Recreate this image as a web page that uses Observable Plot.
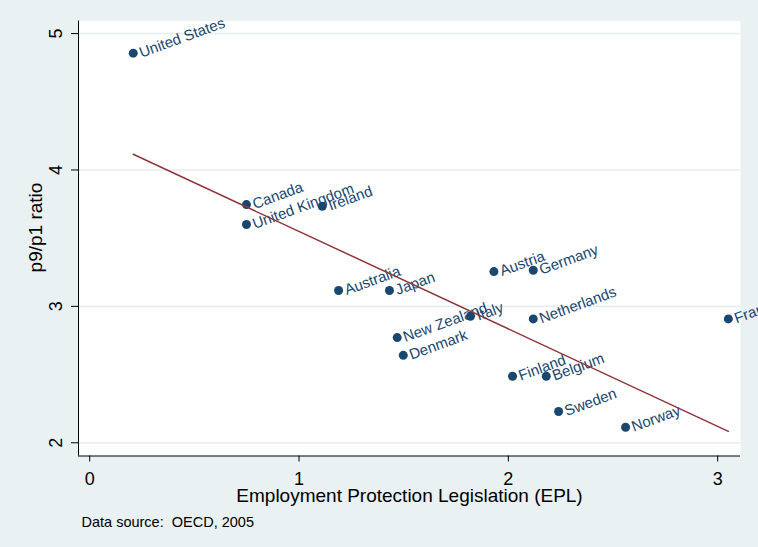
<!DOCTYPE html>
<html>
<head>
<meta charset="utf-8">
<script src="https://cdn.jsdelivr.net/npm/d3@7"></script>
<script src="https://cdn.jsdelivr.net/npm/@observablehq/plot@0.6"></script>
<style>
  html, body { margin: 0; padding: 0; background: #e9f1f3; }
  svg text { white-space: pre; }
</style>
</head>
<body>
<div id="chart"></div>
<script>
const countries = ["United States","Canada","United Kingdom","Ireland","Australia","Japan","New Zealand","Denmark","Italy","Austria","Germany","Netherlands","France","Finland","Belgium","Sweden","Norway"];
const epl  = [0.208, 0.749, 0.749, 1.111, 1.189, 1.432, 1.469, 1.498, 1.819, 1.931, 2.119, 2.119, 3.051, 2.020, 2.181, 2.240, 2.560];
const p9p1 = [4.856, 3.746, 3.600, 3.734, 3.116, 3.116, 2.771, 2.641, 2.927, 3.255, 3.265, 2.908, 2.908, 2.488, 2.488, 2.229, 2.114];
const xTicks = [0, 1, 2, 3];
const yTicks = [2, 3, 4, 5];
const xDomain = [-0.0535, 3.109];
const yDomain = [1.903, 5.092];
const xTitle = "Employment Protection Legislation (EPL)";
const yTitle = "p9/p1 ratio";
const caption = "Data source:  OECD, 2005";

const data = countries.map((c, i) => ({country: c, epl: epl[i], p9p1: p9p1[i]}));

const navy = "#1a476f";
const maroon = "#90353b";
const bg = "#e9f1f3";

const chart = Plot.plot({
  width: 758,
  height: 547,
  marginLeft: 78,
  marginRight: 18,
  marginTop: 20.5,
  marginBottom: 91.5,
  style: {background: bg, fontFamily: "'Liberation Sans', Arial, sans-serif", overflow: "visible"},
  x: {domain: xDomain},
  y: {domain: yDomain},
  marks: [
    Plot.frame({fill: "white", stroke: null}),
    Plot.gridY(yTicks, {stroke: "#e4edf0", strokeOpacity: 1, strokeWidth: 1.6}),
    Plot.ruleX([xDomain[0]], {stroke: "black", strokeWidth: 1}),
    Plot.ruleY([yDomain[0]], {stroke: "black", strokeWidth: 1}),
    Plot.axisX(xTicks, {tickSize: 6, tickPadding: 10, fontSize: 18, tickFormat: d => String(d), stroke: "black", fill: "black", label: null}),
    Plot.axisY(yTicks, {tickSize: 7, tickFormat: () => "", stroke: "black", label: null}),
    Plot.text(yTicks, {y: d => d, text: d => String(d), frameAnchor: "left", dx: -22.4, rotate: -90, textAnchor: "middle", lineAnchor: "middle", fontSize: 18, fill: "black"}),
    Plot.text([yTitle], {text: d => d, frameAnchor: "left", dx: -43, dy: -11, rotate: -90, textAnchor: "middle", lineAnchor: "middle", fontSize: 19, fill: "black"}),
    Plot.text([xTitle], {text: d => d, frameAnchor: "bottom", dy: 40, textAnchor: "middle", lineAnchor: "middle", fontSize: 19, fill: "black"}),
    Plot.text([caption], {text: d => d, frameAnchor: "bottom-left", dx: 3, dy: 66.5, textAnchor: "start", lineAnchor: "middle", fontSize: 14.5, fill: "black"}),
    Plot.dot(data, {x: "epl", y: "p9p1", r: 4.5, fill: navy, stroke: null}),
    Plot.text(data, {x: "epl", y: "p9p1", text: "country", dx: 6.5, rotate: -20, textAnchor: "start", lineAnchor: "middle", fontSize: 15, fill: navy}),
    Plot.linearRegressionY(data, {x: "epl", y: "p9p1", stroke: maroon, strokeWidth: 1.5, ci: 0})
  ]
});
document.getElementById("chart").appendChild(chart);
</script>
</body>
</html>
